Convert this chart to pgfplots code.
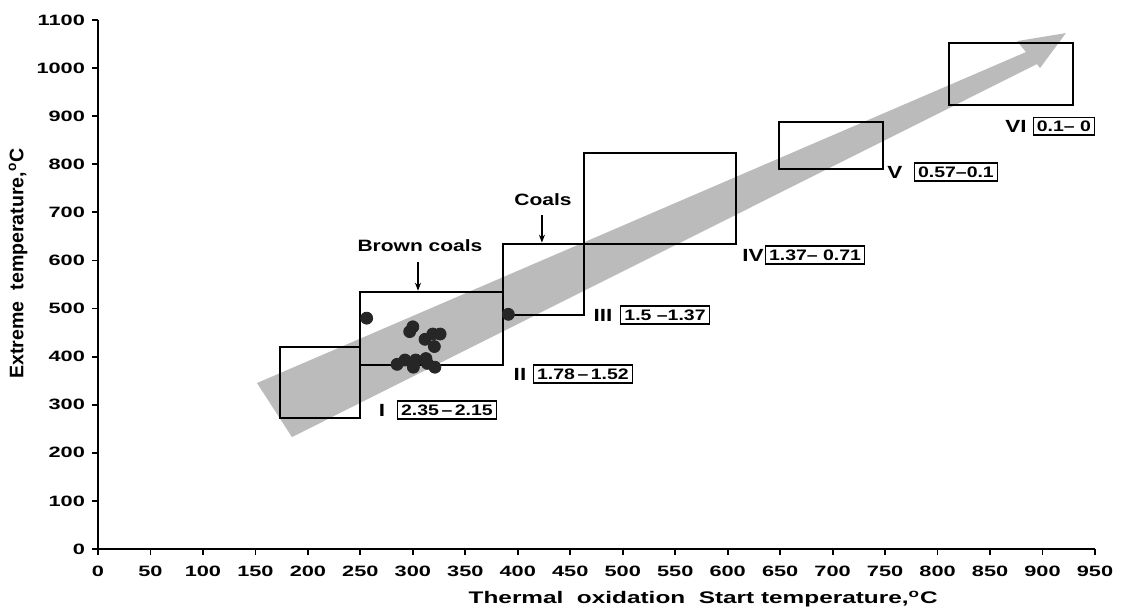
\documentclass[border=0pt]{standalone}
\usepackage{fontspec}
\setmainfont{Liberation Sans}[FakeStretch=1.45]
\newfontfamily\fnote{Liberation Sans}[FakeStretch=1.28]
\newfontfamily\fy{Liberation Sans}
\usepackage{pgfplots}
\pgfplotsset{compat=1.18}
\usetikzlibrary{arrows.meta}
\definecolor{band}{RGB}{187,187,187}
\begin{document}
\begin{tikzpicture}
\begin{axis}[
  scale only axis, width=498.5pt, height=264.5pt,
  xmin=0, xmax=950, ymin=0, ymax=1100,
  axis x line*=bottom, axis y line*=left,
  xtick={0,50,...,950}, ytick={0,100,...,1100},
  tick align=outside, major tick length=3pt,
  tick style={line width=0.9pt, black},
  axis line style={line width=1pt},
  ticklabel style={font=\fontsize{7.5}{9}\selectfont\bfseries},
  xticklabel style={yshift=-2pt},
  /pgf/number format/assume math mode=true,
  /pgf/number format/1000 sep={},
  clip=false,
  xlabel={Thermal\ \ oxidation\ \ Start temperature,\textsuperscript{o}C},
  ylabel={Extreme\ \ temperature,\textsuperscript{o}C},
  xlabel style={at={(axis description cs:0.607,0)}, anchor=center, yshift=-25pt, font=\fontsize{8.4}{10}\selectfont\bfseries},
  ylabel style={at={(axis description cs:-0.0802,0.54)}, anchor=center, font=\fy\fontsize{9.8}{11}\selectfont\bfseries},
]
% gray trend arrow
\fill[band] (axis cs:151.5,345.1) -- (axis cs:884.2,1033.3) -- (axis cs:875.7,1056.1)
  -- (axis cs:922.3,1072.8) -- (axis cs:897.6,1000) -- (axis cs:894.7,1008.3)
  -- (axis cs:184.8,232.8) -- cycle;
% stage boxes
\draw[line width=1pt] (axis cs:173,272) rectangle (axis cs:250,420);
\draw[line width=1pt] (axis cs:250,383) rectangle (axis cs:386,534);
\draw[line width=1pt] (axis cs:386,486) rectangle (axis cs:463,634);
\draw[line width=1pt] (axis cs:463,634) rectangle (axis cs:608,823);
\draw[line width=1pt] (axis cs:649,790) rectangle (axis cs:748,888);
\draw[line width=1pt] (axis cs:811,923) rectangle (axis cs:929,1052);
% data points
\addplot[only marks, mark=*, mark size=3pt, color=black!85] coordinates {
  (256,480) (300,462) (297,452) (311.6,436) (319,447) (326,447) (320.5,421)
  (285,384) (292.5,393) (300.5,378) (302.7,393) (312.5,396) (313.8,386)
  (321,378) (391,488)
};
% labels
\tikzset{rom/.style={font=\fnote\fontsize{8.8}{10}\selectfont\bfseries},
         rng/.style={draw=black, line width=0.6pt, fill=white, inner sep=1.8pt,
                     font=\fnote\fontsize{7.6}{9}\selectfont\bfseries}}
\node[rom] at (axis cs:270.6,289) {I};
\node[rng] at (axis cs:332.5,289) {2.35\,–\,2.15};
\node[rom] at (axis cs:402.1,363.8) {II};
\node[rng] at (axis cs:462.1,363.8) {1.78\,–\,1.52};
\node[rom] at (axis cs:481.2,486.5) {III};
\node[rng] at (axis cs:540.3,486.5) {1.5 –1.37};
\node[rom] at (axis cs:624.1,611.2) {IV};
\node[rng] at (axis cs:683.2,611.2) {1.37– 0.71};
\node[rom] at (axis cs:759.4,783.8) {V};
\node[rng] at (axis cs:817.5,783.8) {0.57–0.1};
\node[rom] at (axis cs:874.7,879.4) {VI};
\node[rng] at (axis cs:920.4,879.4) {0.1– 0};
\node[font=\fnote\fontsize{8.2}{10}\selectfont\bfseries] at (axis cs:306.8,630) {Brown\ coals};
\draw[-{Stealth[length=4pt,width=3pt]}, line width=0.8pt] (axis cs:304.9,597) -- (axis cs:304.9,537);
\node[font=\fnote\fontsize{8.2}{10}\selectfont\bfseries] at (axis cs:424,725.6) {Coals};
\draw[-{Stealth[length=4pt,width=3pt]}, line width=0.8pt] (axis cs:423,694) -- (axis cs:423,637);
\end{axis}
\pgfresetboundingbox
\path (-49pt,-33pt) rectangle (514.5pt,274.5pt);
\end{tikzpicture}
\end{document}
